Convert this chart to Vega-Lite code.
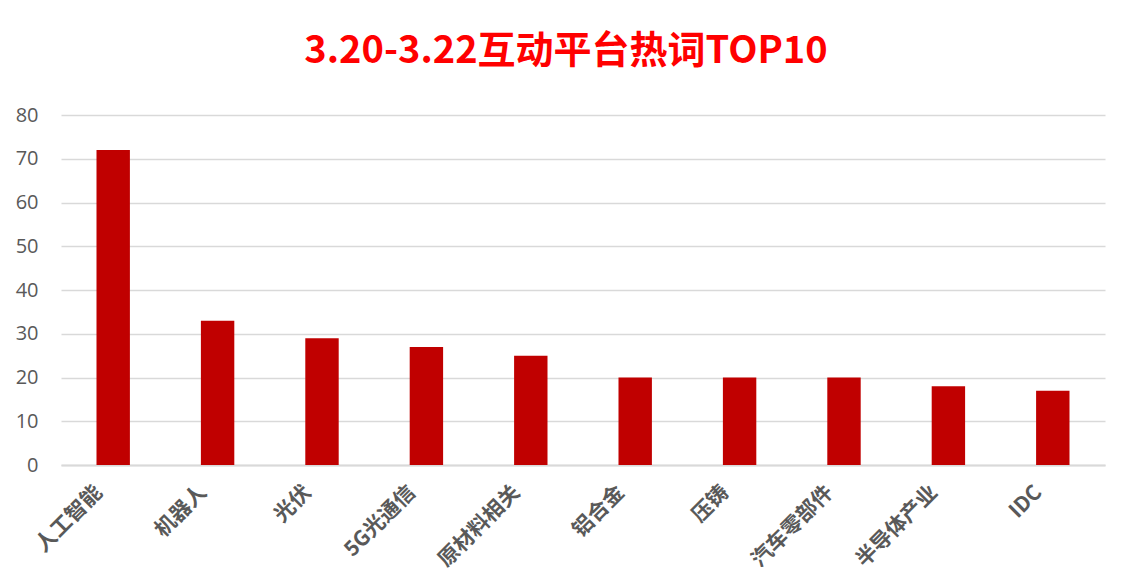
{
  "$schema": "https://vega.github.io/schema/vega-lite/v6.json",
  "autosize": {"type": "none"},
  "padding": {"left": 61, "top": 115, "right": 19, "bottom": 123},
  "width": 1044,
  "height": 350,
  "background": "white",
  "title": {
    "text": "3.20-3.22互动平台热词TOP10",
    "font": "Noto Sans CJK SC",
    "fontSize": 38,
    "fontWeight": "bold",
    "color": "#FF0000",
    "anchor": "middle",
    "dx": -17,
    "offset": 34
  },
  "data": {
    "values": [
      {"category": "人工智能", "value": 72},
      {"category": "机器人", "value": 33},
      {"category": "光伏", "value": 29},
      {"category": "5G光通信", "value": 27},
      {"category": "原材料相关", "value": 25},
      {"category": "铝合金", "value": 20},
      {"category": "压铸", "value": 20},
      {"category": "汽车零部件", "value": 20},
      {"category": "半导体产业", "value": 18},
      {"category": "IDC", "value": 17}
    ]
  },
  "mark": {"type": "bar", "color": "#C00000"},
  "encoding": {
    "x": {
      "field": "category",
      "type": "nominal",
      "sort": null,
      "scale": {"paddingInner": 0.68, "paddingOuter": 0.34},
      "axis": {
        "title": null,
        "labelAngle": -45,
        "labelAlign": "right",
        "labelBaseline": "middle",
        "labelFont": "Noto Sans CJK SC",
        "labelFontSize": 21,
        "labelFontWeight": "bold",
        "labelColor": "#595959",
        "labelPadding": 24,
        "labelOffset": -14,
        "ticks": false,
        "domain": true,
        "domainColor": "#D9D9D9",
        "domainWidth": 2
      }
    },
    "y": {
      "field": "value",
      "type": "quantitative",
      "scale": {"domain": [0, 80]},
      "axis": {
        "title": null,
        "values": [0, 10, 20, 30, 40, 50, 60, 70, 80],
        "labelFont": "Open Sans",
        "labelFontSize": 20,
        "labelColor": "#595959",
        "labelPadding": 23,
        "ticks": false,
        "domain": false,
        "grid": true,
        "gridColor": "#D9D9D9",
        "gridWidth": 1.5
      }
    }
  },
  "config": {"view": {"stroke": null}}
}
